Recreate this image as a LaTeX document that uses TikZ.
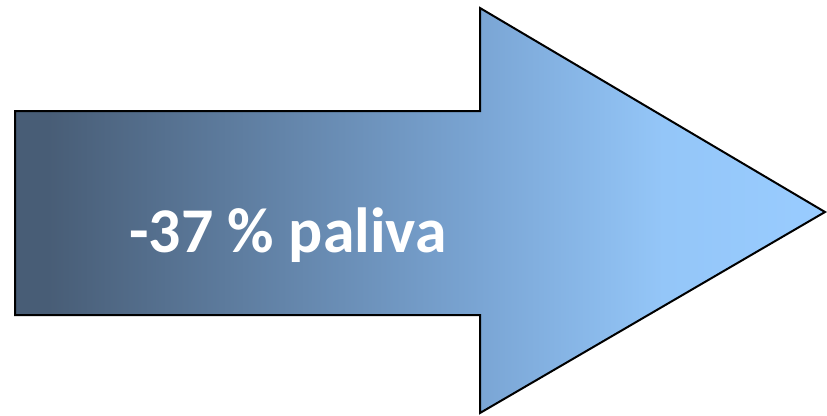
\documentclass[tikz,border=0pt]{standalone}
\usepackage{fontspec}
\newfontfamily\calib{Carlito}
\definecolor{cleft}{RGB}{72,93,118}
\definecolor{cmid}{RGB}{122,165,212}
\definecolor{clight}{RGB}{148,198,248}
\definecolor{cright}{RGB}{153,204,255}
\pgfdeclarehorizontalshading{arrowgrad}{100bp}{color(0bp)=(cleft); color(27bp)=(cleft); color(53.7bp)=(cmid); color(65bp)=(clight); color(75bp)=(cright); color(100bp)=(cright)}
\tikzset{arrowshape/.style={draw=black,line width=2bp,line join=miter,shading=arrowgrad}}
\begin{document}
\begin{tikzpicture}[x=1bp,y=-1bp]
\useasboundingbox (0,0) rectangle (827,415);
\path[arrowshape] (15,111) -- (480,111) -- (480,8) -- (825,212) -- (480,413) -- (480,315) -- (15,315) -- cycle;
\node[text=white,font=\calib\bfseries\fontsize{64}{70}\selectfont,anchor=base] (t) at (288,252) {-37 \% paliva};
\end{tikzpicture}
\end{document}
